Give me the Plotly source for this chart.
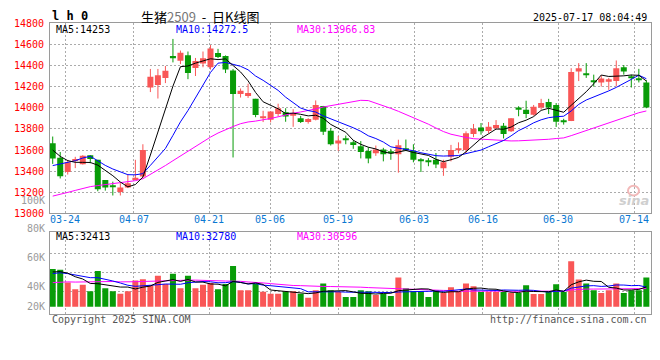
import plotly.graph_objects as go
import pandas as pd

W, H = 660, 360

# ---------------- data ----------------
holidays = ["2025-04-04", "2025-05-01", "2025-05-02", "2025-05-05", "2025-06-02"]
trade_days = [d for d in pd.bdate_range("2025-03-20", "2025-07-16")
              if d.strftime("%Y-%m-%d") not in holidays]
date_labels = [d.strftime("%m-%d") for d in trade_days]

tick_labels = ["03-24", "04-07", "04-21", "05-06", "05-19", "06-03", "06-16", "06-30", "07-14"]
price_ticks = [13000, 13200, 13400, 13600, 13800, 14000, 14200, 14400, 14600, 14800]

opens = [13664, 13527, 13392, 13496, 13466, 13551, 13508, 13316, 13259, 13203,
         13246, 13316, 13350, 14192, 14216, 14283, 14490, 14445, 14497, 14378,
         14420, 14384, 14518, 14490, 14353, 14130, 14112, 14085, 13905, 13887,
         13942, 13957, 13926, 13902, 13865, 13887, 14018, 13783, 13661, 13700,
         13673, 13637, 13591, 13569, 13606, 13579, 13560, 13612, 13591, 13509,
         13500, 13508, 13429, 13536, 13600, 13600, 13753, 13813, 13780, 13807,
         13829, 13777, 14002, 13981, 13935, 14002, 14054, 14027, 13881, 13874,
         14344, 14320, 14262, 14240, 14247, 14253, 14384, 14290, 14265, 14240]
highs = [13728, 13582, 13508, 13536, 13551, 13551, 13508, 13316, 13301, 13286,
         13371, 13508, 13655, 14368, 14368, 14396, 14652, 14542, 14533, 14472,
         14533, 14594, 14558, 14496, 14368, 14183, 14228, 14085, 13972, 13966,
         14039, 13996, 13987, 13923, 13902, 14070, 14018, 13810, 13734, 13737,
         13691, 13685, 13627, 13643, 13621, 13612, 13698, 13700, 13655, 13524,
         13524, 13572, 13508, 13649, 13673, 13777, 13847, 13856, 13865, 13884,
         13856, 13902, 14015, 14067, 14027, 14085, 14085, 14045, 13896, 14375,
         14423, 14423, 14314, 14308, 14283, 14448, 14405, 14314, 14369, 14262]
lows = [13469, 13331, 13368, 13429, 13463, 13475, 13210, 13216, 13170, 13170,
        13240, 13316, 13331, 14149, 14088, 14234, 14430, 14414, 14271, 14301,
        14384, 14362, 14470, 14329, 13530, 14097, 14094, 13911, 13865, 13862,
        13918, 13868, 13820, 13856, 13850, 13881, 13743, 13643, 13591, 13655,
        13612, 13521, 13475, 13545, 13493, 13508, 13386, 13590, 13484, 13392,
        13447, 13429, 13356, 13493, 13569, 13569, 13722, 13746, 13759, 13795,
        13710, 13771, 13920, 13902, 13926, 13984, 13941, 13819, 13841, 13874,
        14253, 14283, 14201, 14201, 14170, 14204, 14314, 14192, 14240, 13996]
closes = [13521, 13353, 13484, 13515, 13545, 13515, 13228, 13246, 13252, 13246,
          13286, 13338, 13600, 14295, 14308, 14350, 14472, 14521, 14329, 14442,
          14469, 14561, 14481, 14362, 14131, 14162, 14140, 13932, 13920, 13966,
          13996, 13917, 13948, 13865, 13893, 14027, 13774, 13655, 13691, 13694,
          13649, 13582, 13521, 13606, 13560, 13573, 13646, 13598, 13508, 13502,
          13493, 13463, 13484, 13600, 13612, 13759, 13801, 13777, 13820, 13838,
          13752, 13902, 13981, 13941, 14009, 14045, 14002, 13868, 13865, 14338,
          14375, 14314, 14247, 14277, 14271, 14375, 14344, 14286, 14262, 14003]
volumes = [44400, 43800, 35600, 31300, 34200, 30000, 43100, 31900, 30000, 28300,
           30000, 36900, 37700, 33800, 40000, 34600, 41300, 31900, 40000, 31900,
           34200, 35200, 31300, 34600, 46300, 30600, 30600, 34600, 29600, 28300,
           28300, 29600, 30000, 28300, 25800, 30600, 35000, 30600, 29400, 26300,
           26300, 30600, 30000, 27500, 28300, 26900, 38800, 31900, 30000, 30000,
           26300, 30600, 28800, 32500, 30000, 35000, 33100, 29400, 29400, 29400,
           29400, 28800, 28800, 33800, 28100, 28100, 29400, 34400, 29400, 49400,
           37500, 35000, 30600, 28800, 30600, 35000, 28800, 30600, 30600, 38800]

# earlier sessions (off-chart), estimated from where the MA lines start
prior_closes = [12900, 12880, 12950, 13010, 12980, 12920, 12960, 13020, 12990, 12940,
                13068, 13050, 13110, 13080, 13020, 13100, 13140, 13060, 13090, 13122,
                13200, 13330, 13360, 13290, 13350, 13653, 13684, 13595, 13547]
prior_volumes = [31500, 33000, 35200, 30800, 32400, 34000, 29600, 31200, 36000, 33500,
                 30200, 32800, 34600, 31000, 29800, 33200, 35800, 32000, 30600, 34400,
                 38500, 41200, 39000, 42500, 40300, 43000, 40500, 42800, 41600]

# legend values as printed on the chart
price_ma_labels = ["MA5:14253", "MA10:14272.5", "MA30:13966.83"]
volume_ma_labels = ["MA5:32413", "MA10:32780", "MA30:30596"]
vol_axis_labels = ["100K", "80K", "60K", "40K", "20K"]

# ---------------- helpers ----------------
N = len(closes)
xs = list(range(N))


def moving_avg(prior, series, n):
    allv = prior + series
    off = len(prior)
    return [sum(allv[off + i - n + 1: off + i + 1]) / n for i in range(len(series))]


ma5 = moving_avg(prior_closes, closes, 5)
ma10 = moving_avg(prior_closes, closes, 10)
ma30 = moving_avg(prior_closes, closes, 30)
vma5 = moving_avg(prior_volumes, volumes, 5)
vma10 = moving_avg(prior_volumes, volumes, 10)
vma30 = moving_avg(prior_volumes, volumes, 30)

RED = "#f95656"
GREEN = "#089c08"
up = [c >= o for o, c in zip(opens, closes)]
colors = [RED if u else GREEN for u in up]

# pixel geometry
PX_L, PX_R = 50, 651
MAIN_TOP, MAIN_BOT = 17.9, 214.6
VOL_TOP, VOL_BOT = 234.3, 318.3
VOL_BASE_PX = 311.0
VOL_BASE = 20000
VOL_PX_PER_UNIT = 1.6 / 1000.0
vol_lo = VOL_BASE - (VOL_BOT - VOL_BASE_PX) / VOL_PX_PER_UNIT
vol_hi = VOL_BASE + (VOL_BASE_PX - VOL_TOP) / VOL_PX_PER_UNIT


def pyv(py):
    return 1 - py / H


def pxv(px):
    return px / W


def vol_at_px(py):
    return VOL_BASE + (VOL_BASE_PX - py) / VOL_PX_PER_UNIT


x_range = [-0.36, 79.62]
grid_x = [date_labels.index(t) * 1.0097 - 0.346 for t in tick_labels]

MONO = "DejaVu Sans Mono"
GRIDC = "#ababab"
FRAME = "#9a9a9a"

fig = go.Figure()

# wicks
for col, flag in ((RED, True), (GREEN, False)):
    wx, wy = [], []
    for i in xs:
        if up[i] == flag:
            wx += [i, i, None]
            wy += [lows[i], highs[i], None]
    fig.add_trace(go.Scatter(x=wx, y=wy, mode="lines", line=dict(color=col, width=1),
                             hoverinfo="skip", showlegend=False, xaxis="x", yaxis="y"))

# bodies
body_base = [min(o, c) for o, c in zip(opens, closes)]
body_len = [max(abs(c - o), 9) for o, c in zip(opens, closes)]
fig.add_trace(go.Bar(x=xs, y=body_len, base=body_base, width=0.8,
                     marker=dict(color=colors, line=dict(width=0)),
                     showlegend=False, xaxis="x", yaxis="y"))

# price MAs
for vals, col in ((ma30, "#ff00ff"), (ma10, "#0000ff"), (ma5, "#000000")):
    fig.add_trace(go.Scatter(x=xs, y=vals, mode="lines", line=dict(color=col, width=1),
                             showlegend=False, xaxis="x", yaxis="y"))

# volume bars
fig.add_trace(go.Bar(x=xs, y=[v - VOL_BASE for v in volumes], base=[VOL_BASE] * N, width=0.8,
                     marker=dict(color=colors, line=dict(width=0)),
                     showlegend=False, xaxis="x2", yaxis="y2"))
for vals, col in ((vma30, "#ff00ff"), (vma10, "#0000ff"), (vma5, "#000000")):
    fig.add_trace(go.Scatter(x=xs, y=vals, mode="lines", line=dict(color=col, width=1),
                             showlegend=False, xaxis="x2", yaxis="y2"))

x_dom = [pxv(PX_L), pxv(PX_R)]
common_x = dict(domain=x_dom, range=x_range, tickvals=grid_x, showticklabels=False,
                showgrid=True, gridcolor=GRIDC, griddash="2px,2px", gridwidth=1,
                zeroline=False, showline=True, mirror=True, linecolor=FRAME, linewidth=1,
                ticks="", fixedrange=True)

fig.update_layout(
    width=W, height=H, margin=dict(l=0, r=0, t=0, b=0),
    paper_bgcolor="white", plot_bgcolor="white",
    barmode="overlay", showlegend=False,
    xaxis=dict(anchor="y", **common_x),
    xaxis2=dict(anchor="y2", matches="x", **common_x),
    yaxis=dict(domain=[pyv(MAIN_BOT), pyv(MAIN_TOP)], range=[13000, 14800],
               tickvals=price_ticks, ticktext=[str(v) for v in price_ticks],
               tickfont=dict(family=MONO, size=10, color="#ff0000"),
               showgrid=True, gridcolor=GRIDC, griddash="2px,2px", gridwidth=1,
               zeroline=False, showline=True, mirror=True, linecolor=FRAME, linewidth=1,
               ticks="", ticklabelstandoff=3, fixedrange=True),
    yaxis2=dict(domain=[pyv(VOL_BOT), pyv(VOL_TOP)], range=[vol_lo, vol_hi],
                tickvals=[vol_at_px(p) for p in (255.7, 275.7, 295.7)],
                showticklabels=False,
                showgrid=True, gridcolor=GRIDC, griddash="2px,2px", gridwidth=1,
                zeroline=False, showline=True, mirror=True, linecolor=FRAME, linewidth=1,
                ticks="", fixedrange=True),
)

ann = []


def txt(x, y, s, color="#000", size=10, xanchor="left", family=MONO, **kw):
    ann.append(dict(x=pxv(x), y=pyv(y), xref="paper", yref="paper", text=s, showarrow=False,
                    xanchor=xanchor, yanchor="middle",
                    font=dict(family=family, size=size, color=color, **kw)))


# header
txt(50, 10.5, "<b>l h 0</b>", size=12)
txt(200, 11, "生猪<span style='color:#777'>2509</span>&nbsp;&nbsp;-&nbsp;&nbsp;日K线图", size=13,
    xanchor="center", family="Noto Sans CJK SC")
txt(649, 11.5, "2025-07-17 08:04:49", xanchor="right")

# MA legends
for lab, col, x in zip(price_ma_labels, ("#000000", "#0000ff", "#ff00ff"), (54, 174, 295)):
    txt(x, 24.5, lab, color=col)
for lab, col, x in zip(volume_ma_labels, ("#000000", "#0000ff", "#ff00ff"), (54, 174, 295)):
    txt(x, 238.7, lab, color=col)

# x tick labels
for t, gx in zip(tick_labels, grid_x):
    px = PX_L + (gx - x_range[0]) / (x_range[1] - x_range[0]) * (PX_R - PX_L)
    if px - 15 < PX_L:
        txt(PX_L, 221, t, color="#0a78d2", xanchor="left")
    else:
        txt(px, 221, t, color="#0a78d2", xanchor="center")

# volume axis labels (gray)
for lab, py in zip(vol_axis_labels, (200.7, 230.5, 260.5, 290.5, 311.2)):
    txt(47, py, lab, color="#9a9a9a", xanchor="right")

# footer
txt(50, 324, "Copyright 2025 SINA.COM", color="#555")
txt(649, 324, "http://finance.sina.com.cn", color="#555", xanchor="right")

# watermark
txt(634, 201, "<i><b>sina</b></i>", color="#cfcfcf", size=13, xanchor="center",
    family="DejaVu Sans")

fig.update_layout(annotations=ann)
fig.add_shape(type="circle", xref="paper", yref="paper",
              x0=pxv(628), x1=pxv(639), y0=pyv(196), y1=pyv(186),
              line=dict(color="#f2b9b9", width=2))

fig.write_html("out.html", config={"displayModeBar": False},
               post_script="document.body.style.margin='0';document.body.style.overflow='hidden';")
